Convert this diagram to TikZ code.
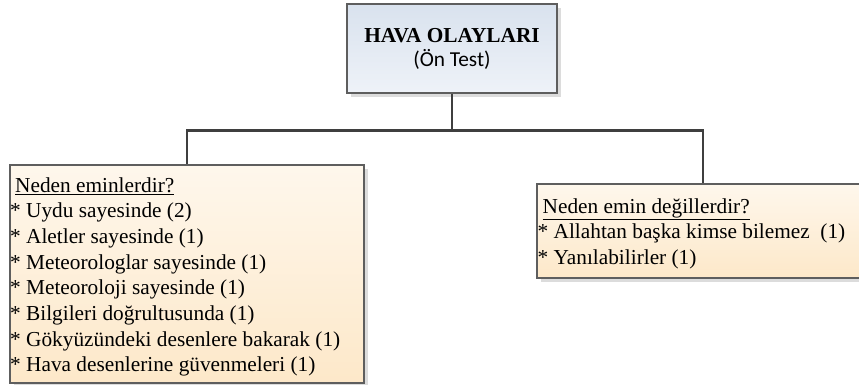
\documentclass[tikz,border=0pt]{standalone}
\usepackage{fontspec}
\setmainfont{Liberation Serif}
\newfontfamily\calibrifont{Carlito}
\usetikzlibrary{shadows}

\definecolor{lineclr}{HTML}{3F3F3F}
\definecolor{boxedge}{HTML}{5E5E5E}
\definecolor{shadowclr}{HTML}{DCDCDC}
\definecolor{blueTop}{HTML}{D9E2EE}
\definecolor{blueBot}{HTML}{EEF2F8}
\definecolor{creamTop}{HTML}{FEF7EC}
\definecolor{creamBot}{HTML}{FDE8C9}

\begin{document}
\begin{tikzpicture}[x=1pt,y=-1pt,
  box/.style={draw=boxedge, line width=1.2pt, inner sep=0pt,
    drop shadow={shadow xshift=4pt, shadow yshift=-4pt, fill=shadowclr, opacity=1}},
  titlebox/.style={box, top color=blueTop, bottom color=blueBot},
  notebox/.style={box, top color=creamTop, bottom color=creamBot},
  link/.style={draw=lineclr, line width=2.2pt},
  txt/.style={inner sep=0pt, font=\fontsize{21.3}{25}\selectfont},
  itemtext/.style={txt, anchor=base west},
]
\useasboundingbox (0,0) rectangle (859,385);
\clip (0,0) rectangle (859,385);

% boxes
\node[titlebox, minimum width=210pt, minimum height=89pt] (top) at (452,48.5) {};
\node[notebox, minimum width=354pt, minimum height=218pt] (left) at (187,274) {};
\node[notebox, minimum width=332pt, minimum height=94pt] (right) at (703,231) {};

% connectors
\draw[link] (top.south) -- ++(0,37) coordinate (junction);
\draw[link] (junction) -| (left.north);
\draw[link] (junction) -| (right.north);

% title
\node[txt, anchor=base, font=\bfseries\fontsize{21.3}{25}\selectfont] (title) at (452,43) {HAVA OLAYLARI};
\node[txt, anchor=base, font=\calibrifont\fontsize{21.3}{25}\selectfont] (subtitle) at (452,67) {(Ön Test)};

% left list
\node[itemtext] (lhead) at (15,192) {\underline{Neden eminlerdir?}};
\foreach \t [count=\i] in {%
  * Uydu sayesinde (2),
  * Aletler sayesinde (1),
  * Meteorologlar sayesinde (1),
  * Meteoroloji sayesinde (1),
  * Bilgileri doğrultusunda (1),
  * Gökyüzündeki desenlere bakarak (1),
  * Hava desenlerine güvenmeleri (1)}
  \node[itemtext] (litem\i) at (10,192+25.7*\i) {\t};

% right list
\node[itemtext] (rhead) at (542.5,213) {\underline{Neden emin değillerdir?}};
\node[itemtext] (ritem1) at (537.5,238.7) {* Allahtan başka kimse bilemez~ (1)};
\node[itemtext] (ritem2) at (537.5,264.4) {* Yanılabilirler (1)};
\end{tikzpicture}
\end{document}
